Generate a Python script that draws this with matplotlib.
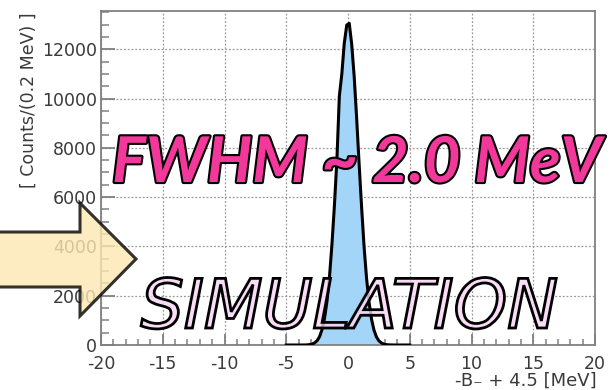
import numpy as np
import matplotlib
matplotlib.use("Agg")
import matplotlib.pyplot as plt
import matplotlib.patheffects as pe
from matplotlib.patches import Polygon
from matplotlib.ticker import MultipleLocator

# ---- data ----
bin_edges_start = -5.0
bin_width = 0.2
counts = [0, 0, 0, 0, 0, 0, 0, 1,
          6, 18, 41, 88, 176, 340, 630, 1090, 1780, 2760, 4080, 5660, 7500, 10100, 11000, 12250, 12980,
          13050, 12200, 10900, 9200, 7350, 5600, 4000, 2720, 1750, 1060, 610, 330, 170, 85, 38, 16, 7, 3,
          1, 0, 0, 0, 0, 0, 0]
x_ticks = [-20, -15, -10, -5, 0, 5, 10, 15, 20]
y_ticks = [0, 2000, 4000, 6000, 8000, 10000, 12000]
xlabel = "-B\u208b + 4.5 [MeV]"
ylabel = "[ Counts/(0.2 MeV) ]"
title_text = "FWHM ~ 2.0 MeV"
sim_text = "SIMULATION"

counts = np.array(counts, dtype=float)
edges = bin_edges_start + bin_width * np.arange(len(counts) + 1)
centers = 0.5 * (edges[:-1] + edges[1:])

W, H = 613, 390
fig = plt.figure(figsize=(W / 100, H / 100), dpi=100)
ax = fig.add_axes([101 / W, 1 - 345 / H, 494 / W, 334 / H])

ax.bar(centers, counts, width=bin_width, color="#a3d5f8", edgecolor="none", zorder=2)
line_x = np.concatenate([[edges[0]], centers, [edges[-1]]])
line_y = np.concatenate([[0], counts, [0]])
ax.plot(line_x, line_y, color="black", lw=2.2, zorder=3, solid_joinstyle="round")

ax.set_xlim(-20, 20)
ax.set_ylim(0, 13550)
ax.set_xticks(x_ticks)
ax.set_yticks(y_ticks)
ax.set_xticklabels([str(t) for t in x_ticks])
ax.set_yticklabels([str(t) for t in y_ticks])
ax.xaxis.set_minor_locator(MultipleLocator(1))
ax.yaxis.set_minor_locator(MultipleLocator(500))

gray = "#808080"
txtc = "#3a3a3a"
for s in ax.spines.values():
    s.set_color(gray)
    s.set_linewidth(1.3)
ax.tick_params(axis="both", which="both", direction="in", color=gray, labelcolor=txtc, labelsize=12.5)
ax.tick_params(axis="y", which="major", length=10, width=1.3, pad=3)
ax.tick_params(axis="y", which="minor", length=6, width=1.1)
ax.tick_params(axis="x", which="major", length=8, width=1.3, pad=7)
ax.tick_params(axis="x", which="minor", length=4, width=1.1)
ax.grid(True, which="major", linestyle=(0, (1.5, 1.5)), color="#9a9a9a", lw=0.9, zorder=0)
ax.set_axisbelow(True)

fig.text(597 / W, 1 - 381 / H, xlabel, ha="right", va="center", fontsize=13, color=txtc)
fig.text(29 / W, 1 - 12 / H, ylabel, ha="center", va="top", rotation=90, fontsize=12.5, color=txtc)

# arrow (decoration)
pts = [(-5, 232), (80, 232), (80, 203), (136, 259), (80, 316), (80, 287), (-5, 287)]
arrow = Polygon([(x / W, 1 - y / H) for x, y in pts], closed=True, transform=fig.transFigure,
                facecolor="#fde6b2", edgecolor="black", lw=2.2, alpha=0.8, zorder=5)
fig.patches.append(arrow)

t1 = fig.text(357 / W, 1 - 182 / H, title_text, ha="center", va="baseline", fontsize=45.5,
              fontfamily="Lato", fontweight="bold", fontstyle="italic", color="#f2389b", zorder=6)
t1.set_path_effects([pe.Stroke(linewidth=3, foreground="black"), pe.Normal()])

t2 = fig.text(349 / W, 1 - 328 / H, sim_text, ha="center", va="baseline", fontsize=49,
              fontfamily="DejaVu Sans", fontstyle="oblique", color="#fcdaf7", zorder=6)
t2.set_path_effects([pe.PathPatchEffect(facecolor=(0.98, 0.83, 0.96, 0.8), edgecolor="none"),
                     pe.PathPatchEffect(facecolor="none", edgecolor="black", linewidth=2.0)])

fig.savefig("out.png", dpi=100)
